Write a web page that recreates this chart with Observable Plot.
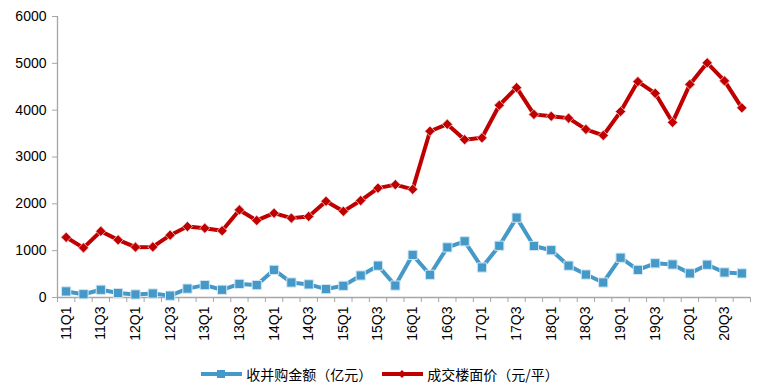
<!DOCTYPE html>
<html>
<head>
<meta charset="utf-8">
<script src="https://cdn.jsdelivr.net/npm/d3@7"></script>
<script src="https://cdn.jsdelivr.net/npm/@observablehq/plot@0.6"></script>
<style>
  html, body { margin: 0; padding: 0; background: #fff; }
  body { position: relative; width: 760px; height: 387px; overflow: hidden; font-family: "Liberation Sans", Arial, sans-serif; }
  #legend { position: absolute; left: 0; top: 363px; width: 760px; height: 22px; display: flex; justify-content: center; align-items: center; font-family: "Noto Sans CJK SC", sans-serif; font-size: 14px; color: #000; }
  #legend .item { display: flex; align-items: center; }
  #legend svg { display: block; margin-right: 4px; }
  #legend .gap { width: 10px; }
</style>
</head>
<body>
<div id="chart"></div>
<div id="legend"></div>
<script>
const quarters = [];
for (let y = 11; y <= 20; y++) for (let q = 1; q <= 4; q++) quarters.push(y + "Q" + q);

const seriesNames = ["收并购金额（亿元）", "成交楼面价（元/平）"];

const maAmount = [130, 70, 165, 95, 65, 85, 40, 190, 265, 165, 290, 265, 590, 320, 280, 180, 250, 470, 680,
  255, 910, 485, 1070, 1200, 640, 1105, 1705, 1100, 1010, 680, 490, 320, 850, 590, 730, 705, 515, 700, 535, 515];

const landPrice = [1285, 1060, 1415, 1230, 1075, 1080, 1330, 1515, 1480, 1425, 1870, 1645, 1800, 1695, 1730, 2055, 1840, 2070, 2335,
  2410, 2310, 3550, 3700, 3370, 3410, 4105, 4480, 3910, 3870, 3830, 3590, 3460, 3970, 4610, 4360, 3740, 4550, 5010, 4625, 4050];

const yTicks = [0, 1000, 2000, 3000, 4000, 5000, 6000];

const blue = "#4599c8";
const red = "#c00000";
const grid = "#a6a6a6";

const rowsA = maAmount.map((v, i) => ({i, q: quarters[i], v}));
const rowsP = landPrice.map((v, i) => ({i, q: quarters[i], v}));
const labelPos = quarters.map((q, i) => i).filter(i => i % 2 === 0).map(i => i + 0.5);

const chart = Plot.plot({
  width: 760,
  height: 352,
  marginLeft: 57,
  marginRight: 10,
  marginTop: 16,
  marginBottom: 55,
  style: {fontFamily: "'Liberation Sans', Arial, sans-serif", fontSize: "14px", color: "#000", background: "#fff"},
  x: {type: "linear", domain: [0, quarters.length]},
  y: {domain: [0, 6000]},
  marks: [
    Plot.axisY({ticks: yTicks, tickSize: 5, tickPadding: 6, stroke: grid, fill: "#000", label: null, tickFormat: d => String(d)}),
    Plot.axisX({ticks: d3.range(0, quarters.length + 1), tickSize: 5, stroke: grid, tickFormat: () => "", label: null}),
    Plot.axisX({ticks: labelPos, tickSize: 0, tickPadding: 9, tickRotate: -90, fill: "#000", label: null, tickFormat: d => quarters[d - 0.5]}),
    Plot.ruleX([0], {stroke: grid, strokeWidth: 1.3}),
    Plot.ruleY([0], {stroke: grid, strokeWidth: 1.3}),
    Plot.line(rowsP, {x: d => d.i + 0.5, y: "v", stroke: red, strokeWidth: 4}),
    Plot.dot(rowsP, {x: d => d.i + 0.5, y: "v", symbol: "diamond2", r: 4.6, fill: red, stroke: "#f0c8c8", strokeWidth: 0.8}),
    Plot.line(rowsA, {x: d => d.i + 0.5, y: "v", stroke: blue, strokeWidth: 4}),
    Plot.dot(rowsA, {x: d => d.i + 0.5, y: "v", symbol: "square", r: 5.2, fill: blue, stroke: "#d2e6f3", strokeWidth: 1})
  ]
});
document.getElementById("chart").appendChild(chart);

// legend
const legend = document.getElementById("legend");
function item(name, color, marker) {
  const div = document.createElement("div");
  div.className = "item";
  const m = marker === "square"
    ? `<rect x="16" y="7" width="8" height="8" fill="${color}"/>`
    : `<path d="M20 7 L24 11 L20 15 L16 11 Z" fill="${color}"/>`;
  div.innerHTML = `<svg width="41" height="22"><line x1="0" y1="11" x2="41" y2="11" stroke="${color}" stroke-width="4"/>${m}</svg><span>${name}</span>`;
  return div;
}
legend.appendChild(item(seriesNames[0], blue, "square"));
const gap = document.createElement("div"); gap.className = "gap"; legend.appendChild(gap);
legend.appendChild(item(seriesNames[1], red, "diamond"));
</script>
</body>
</html>
